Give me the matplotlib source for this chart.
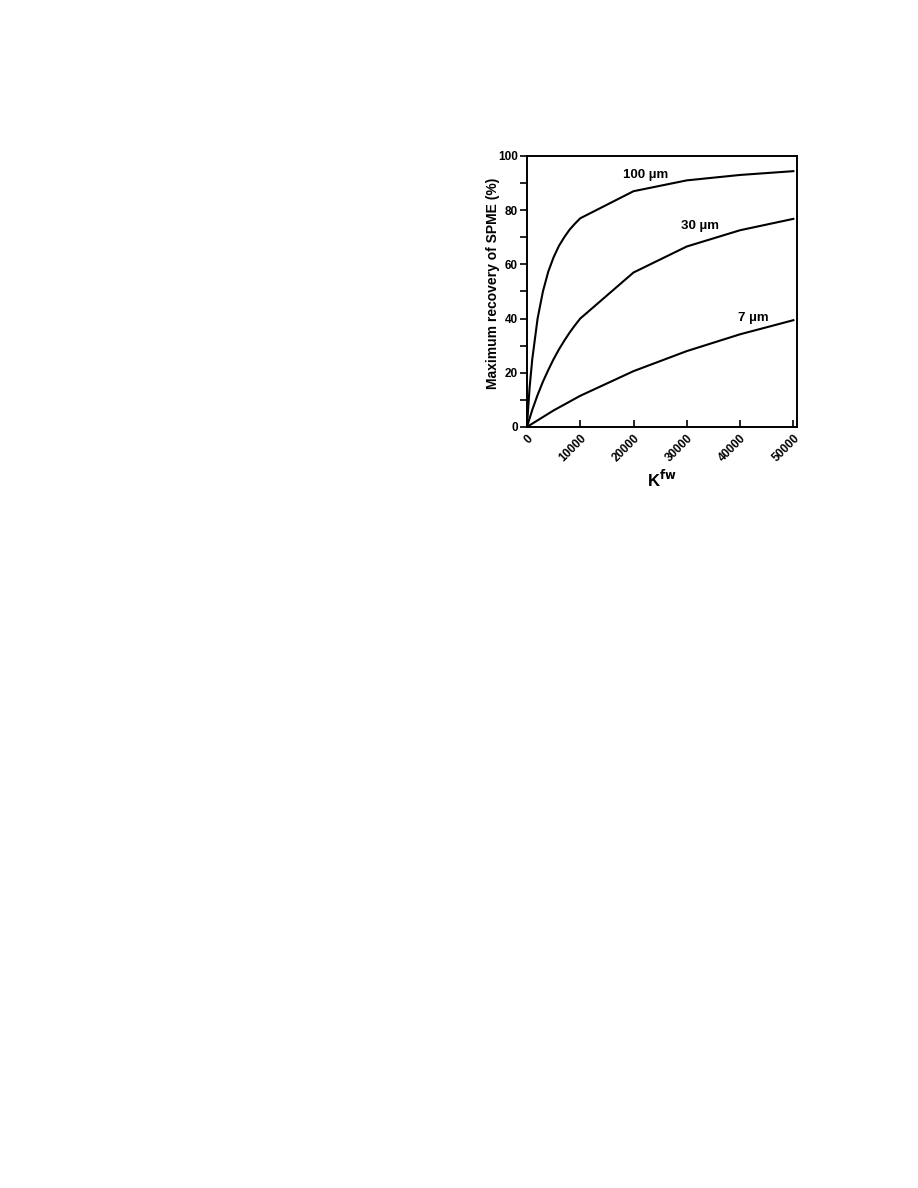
import matplotlib.pyplot as plt

plt.rcParams["font.family"] = ["Liberation Sans", "DejaVu Sans"]
plt.rcParams["font.weight"] = "bold"

k_100 = [0, 500, 1000, 2000, 3000, 4000, 5000, 6000, 7000, 8000, 9000, 10000,
         20000, 30000, 40000, 50000]
rec_100 = [0, 14.5, 25, 40, 50, 57.3, 62.6, 66.8, 70, 72.8, 75, 77,
           87, 91, 93, 94.4]

k_30 = [0, 1000, 2000, 3000, 4000, 5000, 6000, 7000, 8000, 9000, 10000,
        20000, 30000, 40000, 50000]
rec_30 = [0, 6.3, 11.8, 16.7, 21, 25, 28.6, 31.8, 34.8, 37.5, 40,
          57, 66.6, 72.6, 76.8]

k_7 = [0, 5000, 10000, 20000, 30000, 40000, 50000]
rec_7 = [0, 6.1, 11.5, 20.6, 28, 34.2, 39.4]

labels = ["100 µm", "30 µm", "7 µm"]
label_pos = [(22200, 93), (32400, 74.3), (42400, 40.2)]

fig = plt.figure(figsize=(9.18, 11.88), dpi=100)
ax = fig.add_axes([0.574, 0.6406, 0.294, 0.2281])

for k, r in [(k_100, rec_100), (k_30, rec_30), (k_7, rec_7)]:
    ax.plot(k, r, color="black", linewidth=1.5)

for txt, (x, y) in zip(labels, label_pos):
    ax.text(x, y, txt, fontsize=9.5, fontweight="bold", ha="center", va="center")

ax.set_xlim(0, 50650)
ax.set_ylim(0, 100)
ax.set_xticks([0, 10000, 20000, 30000, 40000, 50000])
ax.set_yticks([0, 20, 40, 60, 80, 100])
ax.set_yticks([10, 30, 50, 70, 90], minor=True)
ax.tick_params(axis="y", which="both", direction="out", length=5, width=1.2,
               labelsize=8.5, pad=1.5)
ax.tick_params(axis="x", direction="in", length=5, width=1.2, labelsize=8.5,
               pad=4)
plt.setp(ax.get_xticklabels(), rotation=45, ha="right", rotation_mode="anchor",
         fontweight="bold")
plt.setp(ax.get_yticklabels(), fontweight="bold")
for s in ax.spines.values():
    s.set_linewidth(1.4)

ax.set_ylabel("Maximum recovery of SPME (%)", fontsize=10, fontweight="bold")
ax.yaxis.set_label_coords(-0.10, 0.531)
ax.set_xlabel("K$^{\\mathbf{fw}}$", fontsize=12, fontweight="bold", labelpad=3)

fig.savefig("out.png", dpi=100)
